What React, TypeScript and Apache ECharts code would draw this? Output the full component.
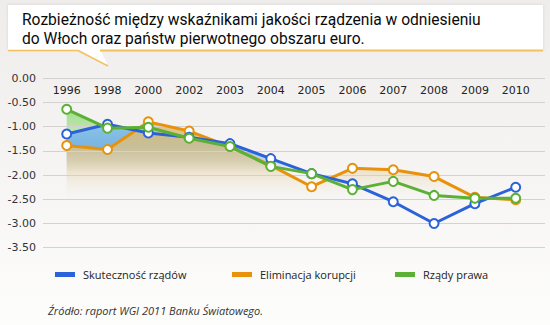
import React, { useEffect, useRef } from "react";
import * as echarts from "echarts";

const years = ["1996", "1998", "2000", "2002", "2003", "2004", "2005", "2006", "2007", "2008", "2009", "2010"];
const skutecznosc = [-1.15, -0.95, -1.13, -1.22, -1.35, -1.66, -1.97, -2.18, -2.55, -3.0, -2.59, -2.25];
const korupcja = [-1.39, -1.47, -0.9, -1.09, -1.41, -1.8, -2.24, -1.86, -1.89, -2.03, -2.46, -2.51];
const prawo = [-0.64, -1.03, -1.01, -1.24, -1.41, -1.82, -1.97, -2.3, -2.13, -2.42, -2.48, -2.48];
const seriesNames = ["Skuteczność rządów", "Eliminacja korupcji", "Rządy prawa"];
const yMin = -3.5;
const yMax = 0;
const yStep = 0.5;

const titleLines = ["Rozbieżność między wskaźnikami jakości rządzenia w odniesieniu", "do Włoch oraz państw pierwotnego obszaru euro."];
const sourceText = "Źródło: raport WGI 2011 Banku Światowego.";

const BLUE = "#2b62d9";
const ORANGE = "#e8920c";
const GREEN = "#5bb035";

export default function App() {
  const ref = useRef<HTMLDivElement>(null);
  useEffect(() => {
    const chart = echarts.init(ref.current!, null, { renderer: "svg", width: 550, height: 325 });
    const G = echarts.graphic.LinearGradient;
    const gridTop = 78.3;
    const gridH = 169.4;

    const areaSeries = (name: string, data: number[], grad: any, z: number) => ({
      name,
      type: "line",
      xAxisIndex: 1,
      yAxisIndex: 1,
      data,
      symbol: "none",
      silent: true,
      lineStyle: { width: 0, opacity: 0 },
      areaStyle: { origin: "start", color: grad, opacity: 1 },
      z,
    });

    const lineSeries = (name: string, data: number[], color: string, z: number) => ({
      name,
      type: "line",
      xAxisIndex: 1,
      yAxisIndex: 1,
      data,
      symbol: "emptyCircle",
      symbolSize: 9,
      showAllSymbol: true,
      lineStyle: { color, width: 3 },
      itemStyle: { color, borderWidth: 3 },
      z,
    });

    const option: any = {
      animation: false,
      graphic: [
        {
          type: "rect",
          z: -10,
          silent: true,
          shape: { x: 0, y: 0, width: 550, height: 325 },
          style: {
            fill: new G(0, 0, 0, 1, [
              { offset: 0, color: "#efedeb" },
              { offset: 0.55, color: "#f6f5f4" },
              { offset: 1, color: "#fdfdfc" },
            ]),
          },
        },
        {
          type: "rect",
          z: -5,
          silent: true,
          shape: { x: 8, y: 5, width: 535, height: 45 },
          style: { fill: "#ffffff", shadowBlur: 3, shadowColor: "rgba(0,0,0,0.12)" },
        },
        {
          type: "polygon",
          z: -4,
          silent: true,
          shape: { points: [[78, 49], [108, 66], [100, 49]] },
          style: { fill: "#ffffff" },
        },
        {
          type: "polyline",
          z: -3,
          silent: true,
          shape: { points: [[8, 50.5], [78, 50.5], [108, 66]] },
          style: { stroke: "#f2c25e", lineWidth: 1.6, fill: null },
        },
        {
          type: "line",
          z: -3,
          silent: true,
          shape: { x1: 100, y1: 50.5, x2: 543, y2: 50.5 },
          style: { stroke: "#f2c25e", lineWidth: 2 },
        },
        ...titleLines.map((t, i) => ({
          type: "text",
          z: 10,
          x: 22,
          y: 20 + i * 18.5,
          style: {
            text: t,
            fill: "#0a0a0a",
            font: '15.6px Roboto',
            lineHeight: 17,
            verticalAlign: "middle",
          },
        })),
        {
          type: "text",
          z: 10,
          x: 48,
          y: 305,
          style: {
            text: sourceText,
            fill: "#333",
            font: 'italic 11px "Open Sans"',
          },
        },
      ],
      grid: [
        { left: 43, right: 5, top: gridTop, height: gridH },
        { left: 66.7, right: 34.3, top: gridTop, height: gridH },
      ],
      xAxis: [
        { gridIndex: 0, type: "value", min: 0, max: 1, show: false },
        {
          gridIndex: 1,
          type: "category",
          data: years,
          boundaryGap: false,
          position: "top",
          axisLine: { show: false },
          axisTick: { show: false },
          splitLine: { show: false },
          axisLabel: {
            inside: true,
            margin: 7,
            color: "#222",
            fontFamily: "DejaVu Sans",
            fontSize: 11,
            interval: 0,
          },
        },
      ],
      yAxis: [
        {
          gridIndex: 0,
          type: "value",
          min: yMin,
          max: yMax,
          interval: yStep,
          z: 3,
          axisLine: { show: false },
          axisTick: { show: false },
          splitLine: { lineStyle: { color: "#d3d2d0", width: 1 } },
          axisLabel: {
            margin: 7,
            color: "#333",
            fontFamily: "DejaVu Sans",
            fontSize: 11,
            formatter: (v: number) => v.toFixed(2),
          },
        },
        { gridIndex: 1, type: "value", min: yMin, max: yMax, show: false },
      ],
      legend: [0, 1, 2].map((i) => ({
        data: [seriesNames[i]],
        left: [55, 232, 395][i],
        top: 269,
        padding: 0,
        icon: "rect",
        itemWidth: 20,
        itemHeight: 5,
        itemStyle: { borderWidth: 0 },
        textStyle: { color: "#222", fontFamily: "Open Sans", fontSize: 11, padding: [0, 0, 0, 3] },
        selectedMode: false,
      })),
      series: [
        areaSeries(
          "a-green",
          prawo,
          new G(0, 95, 0, 150, [
            { offset: 0, color: "rgba(125,212,95,0.9)" },
            { offset: 0.6, color: "rgba(150,218,125,0.6)" },
            { offset: 1, color: "rgba(170,222,150,0)" },
          ], true),
          1
        ),
        areaSeries(
          "a-blue",
          skutecznosc,
          new G(0, 115, 0, 172, [
            { offset: 0, color: "rgba(150,200,238,0.95)" },
            { offset: 0.55, color: "rgba(110,176,226,0.92)" },
            { offset: 1, color: "rgba(130,185,230,0)" },
          ], true),
          1.1
        ),
        areaSeries(
          "a-orange",
          korupcja,
          new G(0, 135, 0, 200, [
            { offset: 0, color: "rgba(218,188,120,0.85)" },
            { offset: 0.4, color: "rgba(224,200,148,0.7)" },
            { offset: 1, color: "rgba(242,236,224,0)" },
          ], true),
          1.2
        ),
        lineSeries(seriesNames[0], skutecznosc, BLUE, 6),
        lineSeries(seriesNames[1], korupcja, ORANGE, 5),
        lineSeries(seriesNames[2], prawo, GREEN, 7),
      ],
    };
    chart.setOption(option);
    return () => chart.dispose();
  }, []);
  return <div ref={ref} style={{ position: "absolute", left: 0, top: 0, width: 550, height: 325 }} />;
}
